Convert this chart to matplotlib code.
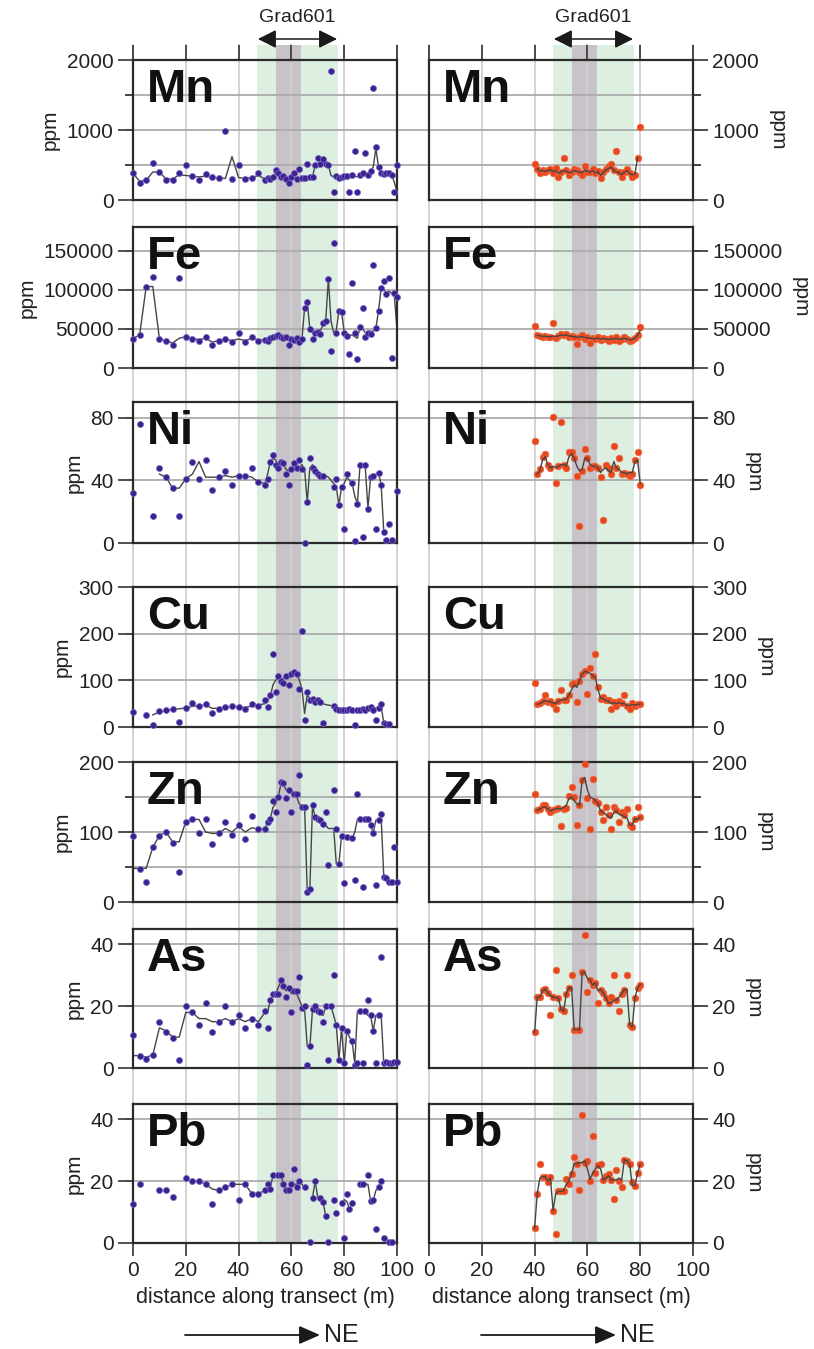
import numpy as np
import matplotlib
matplotlib.use("Agg")
import matplotlib.pyplot as plt
from matplotlib.lines import Line2D
from matplotlib.patches import Rectangle, FancyArrowPatch

plt.rcParams['font.family'] = ['Liberation Sans', 'DejaVu Sans']

N = None  # no sample / no smoothed value

# sample positions along the transect (m)
x_left = [0, 2.5, 5, 7.5, 10, 12.5, 15, 17.5, 20, 22.5, 25, 27.5, 30, 32.5, 35, 37.5, 40, 42.5, 45, 47.5,
          50, 51, 52, 53, 54, 55, 56, 57, 58, 59, 60, 61, 62, 63, 64, 65, 66, 67, 68, 69,
          70, 71, 72, 73, 74, 75, 76, 77, 78, 79, 80, 81, 82, 83, 84, 85, 86, 87, 88, 89,
          90, 91, 92, 93, 94, 95, 96, 97, 98, 99, 100]
x_right = [40, 41, 42, 43, 44, 45, 46, 47, 48, 49, 50, 51, 52, 53, 54, 55, 56, 57, 58, 59,
           60, 61, 62, 63, 64, 65, 66, 67, 68, 69, 70, 71, 72, 73, 74, 75, 76, 77, 78, 79, 80]

elements = ['Mn', 'Fe', 'Ni', 'Cu', 'Zn', 'As', 'Pb']

# ---- left transect: raw points and smoothed line (ppm) ----
mn_pts_L = [380, 240, 285, 530, 400, 285, 285, 380, 500, 340, 285, 370, 330, 310, 985, 295, 500, 300, 320, 380,
            290, 310, 300, 330, 430, 380, 330, 340, 300, 250, 330, 380, 300, 450, 320, 310, 520, 330, 330, 500,
            600, 510, 580, 520, 500, 1845, 115, 340, 320, 330, 350, 340, 120, 360, 700, 120, 360, 380, 665, 360,
            420, 1595, 760, 470, 380, 370, 380, 380, 360, 120, 500]
mn_line_L = [380, 270, 280, 400, 400, 300, 300, 360, 350, 340, 330, 340, 320, 310, 310, 620, 320, 310, 320, 350,
             300, 300, 310, 330, 400, 380, 340, 330, 300, 290, 330, 340, 300, 310, 320, 310, 330, 320, 330, 500,
             520, 510, 540, 520, 500, 350, 330, 340, 320, 330, 350, 340, 330, 360, 340, 330, 360, 380, 350, 360,
             420, 470, 740, 470, 380, 370, 380, 380, 360, 250, 120]

fe_pts_L = [37600, 42000, 104000, 116000, 37600, 34500, 30000, 115000, 40000, 37500, 34500, 40000, 29000, 34500,
            37500, 33000, 45000, 33000, 39000, 34500,
            36000, 35000, 38000, 40000, 41000, 42000, 40000, 38000, 39000, 29000,
            37000, 36000, 38000, 33000, 37000, 77000, 84000, 50000, 37000, 45000,
            46000, 44000, 58000, 60000, 114000, 22000, 160000, 45000, 73000, 71000,
            45000, 41000, 17500, 109000, 45000, 11000, 52000, 77000, 39000, 45000,
            44000, 131000, 51000, 73000, 102000, 111000, 94000, 115000, 13000, 96000, 91000]
fe_line_L = [38000, 42000, 104000, 104000, 37600, 34500, 32000, 38000, 40000, 38000, 36000, 38000, 33000, 35000,
             37000, 35000, 37000, 35000, 38000, 36000,
             36000, 36000, 38000, 39000, 40000, 41000, 40000, 38000, 37000, 35000,
             35000, 37000, 36000, 36000, 37000, 77000, 84000, 50000, 45000, 45000,
             46000, 48000, 55000, 60000, 114000, 60000, 45000, 48000, 73000, 71000,
             46000, 44000, 42000, 42000, 40000, 38000, 52000, 50000, 45000, 45000,
             47000, 47000, 51000, 73000, 102000, 100000, 96000, 98000, 95000, 91000, 50000]

ni_pts_L = [32, 76, N, 17, 48, 42, 35, 17, 41, 52, 41, 53, 34, 42, 46, 37, 43, 43, 48, 39,
            37, 41, 52, 56, 50, 48, 52, 51, 44, 37, 47, 51, 48, 53, 47, 0, 26, 54, 48, 46,
            44, 43, 43, N, N, N, 36, 41, 24, 36, 9, 44, N, 38, 1.5, 25, 50, 4, 50, 22,
            42, 43, 9, 45, 37, 7, 2, 12, 2, N, 33]
ni_line_L = [N, N, N, N, 44, 42, 35, 35, 41, 44, 52, 42, 42, 42, 43, 42, 43, 43, 42, 39,
             38, 44, 52, 54, 53, 50, 50, 50, 47, 46, 46, 50, 49, 48, 50, 47, 26, 48, 50, 46,
             45, 44, 43, 43, 42, 40, 38, 36, 24, 36, 38, 42, 40, 38, 30, 25, 50, 50, 48, 22,
             42, 43, 44, 45, 37, 7, N, N, N, N, N]

cu_pts_L = [32, N, 25, 4, 34, 36, 39, 11, 41, 51, 46, 49, 30, 39, 42, 46, 43, 39, 50, 46,
            57, 43, 68, 156, 75, 110, 99, 95, 110, 89, 113, 117, 113, 82, 206, 15, 75, 57, 61, 54,
            57, 54, 8, N, N, N, 46, 39, 37, 36, 36, 37, 38, 36, 4, 37, 36, 39, 37, 40,
            43, 37, 15, 41, 49, 8, 6, 6, N, N, N]
cu_line_L = [N, N, N, 26, 32, 35, 38, 39, 41, 44, 46, 47, 40, 40, 42, 44, 42, 42, 45, 47,
             50, 55, 65, 90, 100, 105, 100, 105, 110, 105, 110, 113, 115, 100, 82, 29, 70, 60, 58, 56,
             56, 54, 50, 48, 47, 46, 44, 39, 37, 36, 36, 37, 38, 36, 37, 37, 36, 39, 37, 40,
             40, 38, 41, 40, 45, 8, 6, 6, N, N, N]

zn_pts_L = [95, 47, 29, 78, 95, 100, 85, 43, 115, 118, 98, 119, 83, 98, 115, 96, 110, 90, 123, 104,
            105, 114, 119, 145, 129, 150, 171, 170, 148, 160, 129, 155, 155, 181, 136, 136, 15, 19, 138, 121,
            119, 117, 112, 129, 53, N, 160, 105, 55, 95, 27, 93, N, 91, 31, 154, 118, 22, 118, 119,
            110, 98, 24, 117, 126, 36, 34, 29, 28, 79, 28]
zn_line_L = [48, 48, 48, 78, 95, 100, 86, 86, 115, 118, 118, 100, 98, 98, 105, 100, 108, 100, 106, 104,
             105, 114, 119, 135, 140, 150, 168, 168, 160, 158, 155, 155, 150, 140, 136, 136, 15, 20, 138, 121,
             119, 117, 112, 110, 105, 105, 105, 55, 55, 95, 93, 93, 92, 91, 100, 118, 118, 118, 118, 119,
             110, 98, 117, 117, 120, 36, 34, 29, 28, 28, 28]

as_pts_L = [10.8, 3.9, 2.8, 4.2, 14.8, 11.8, 9.7, 2.6, 20, 18, 14, 21, 11.8, 15, 20, 15, 17, 13, 16, 14,
            18.4, 13, 22, 24, 24, 24, 28.5, 26.5, 23, 26, 18, 25, 25, 29.5, 19.5, 20, 1, 7, 19, 20,
            18.4, 18, 15, 20, 2.6, 20, 30, 14, 2.6, 13, 1.5, 12, N, 8.6, 1, 1.5, 18.4, 1.7, 18.4, 22,
            17, 12, 1.5, 17, 36, 1.5, 1.8, 1.5, 1.5, 2, 2]
as_line_L = [4, 4, 3.5, 4.2, 13, 12, 10, 10, 18, 18, 16, 16, 15, 15, 16, 15, 16, 15, 16, 15,
             18, 18, 22, 24, 24, 26, 28, 26, 25, 26, 24, 25, 24, 22, 20, 19, 7, 7, 19, 20,
             18.4, 18, 17, 20, 20, 20, 17, 14, 2.6, 13, 1.5, 12, 10, 8.6, 1.5, 18.4, 18.4, 18.4, 18.4, 17,
             17, 12, 17, 17, 17, 1.5, 1.5, 1.5, 1.8, 2, 2.5]

pb_pts_L = [12.7, 19, N, N, 17, 17, 15, N, 21, 20, 20, 19, 12.7, 17, 18, 19, 13.8, 19, 16, 16,
            17, 19, 17.5, 22, N, 22, 22, 19, 17, 17, 19, 24, 18, 20, N, 18, N, 0.4, 14.7, 20,
            N, 14.7, 13.3, 8.7, 0.4, N, 13.8, 9.8, N, 13, 1.5, 16, 11, 13, N, N, 19, 19, N, 22,
            13.6, 13.8, 4.6, 18, 20, 1.5, N, 0.4, 0.4, N, N]
pb_line_L = [N, N, N, N, N, N, N, N, N, 20, 20, 19, 17.5, 17, 18, 19, 19, 19, 16, 16,
             17, 17.5, 17.5, 22, 22, 22, 22, 19, 17, 17, 19, 19, 19, 20, 19, 18, N, N, 14.7, 20,
             14.7, 14.7, 13.3, 8.7, N, N, N, N, N, 13, 14, 13.5, 11, 13, N, N, 19, 19, 19, 19,
             13.6, 13.8, 17, 18, 20, N, N, N, N, N, N]

# ---- right transect ----
mn_pts_R = [520, 450, 380, 430, 400, 430, 450, 380, 460, 330, 400, 600, 430, 360, 400, 450, 430, 400, 360, 480,
            400, 400, 450, 380, 420, 310, 400, 450, 480, 520, 430, 700, 400, 330, 400, 450, 380, 330, 360, 600, 1040]
mn_line_R = [N, 450, 410, 420, 410, 420, 430, 410, 420, 380, 400, 420, 410, 390, 400, 420, 410, 400, 390, 430,
             410, 400, 420, 390, 400, 350, 390, 430, 450, 470, 420, 400, 390, 360, 400, 420, 380, 360, 370, 600, N]

fe_pts_R = [53000, 42000, 41000, 40000, 41000, 39000, 40000, 57000, 38000, 41000,
            43000, 42000, 43000, 40000, 41000, 39000, 31000, 40000, 42000, 37000,
            39000, 32000, 38000, 37000, 39000, 36000, 38000, 37000, 35000, 38000,
            36000, 39000, 35000, 37000, 40000, 37000, 34000, 36000, 38000, 42000, 52000]
fe_line_R = [N, 42000, 41000, 40500, 40500, 40000, 40000, 41000, 40000, 41000,
             42000, 42000, 42000, 41000, 40500, 40000, 39000, 40000, 40000, 39000,
             38500, 38000, 37500, 37500, 38000, 37000, 37500, 37000, 36500, 37000,
             37000, 38000, 36500, 37000, 38000, 37000, 36000, 36500, 38000, 42000, 48000]

ni_pts_R = [65, 44, 47, 55, 57, 50, 48, 80.5, 38, 49, 77, 50, 48, 58, 58, 54, 42.5, 11, 46, 60,
            54, 48, 49, 49, 48, 42, 14.6, 50, 48, 44, 62, 48, 54, 44, 45, 44, 43, 44, 53, 58, 37]
ni_line_R = [N, 44, 46, 53, 55, 50, 48, 49, 48, 49, 50, 50, 49, 55, 57, 54, 49, 46, 47, 54,
             54, 50, 49, 49, 48, 45, 47, 48, 46, 45, 52, 48, 47, 45, 45, 44, 45, 45, 52, 53, 38]

cu_pts_R = [94, 49, 51, 56, 68, 54, 56, 50, 39, 56, 80, 58, 57, 68, 92, 95, 54, 99, 113, 119,
            70, 127, 110, 156, 85, 60, 64, 57, 58, 39, 54, 46, 56, 51, 69, 46, 39, 51, 46, 50, 49]
cu_line_R = [N, 49, 50, 54, 56, 55, 54, 52, 50, 55, 58, 58, 60, 68, 80, 90, 85, 100, 113, 119,
             118, 115, 110, 106, 80, 62, 60, 57, 55, 50, 52, 50, 52, 50, 50, 46, 46, 48, 47, 49, 49]

zn_pts_R = [155, 131, 133, 138, 138, 133, 129, 131, 133, 135, 108, 133, 135, 152, 164, 150, 110, 138, 174, 197,
            148, 105, 176, 145, 142, 129, 117, 136, 124, 104, 136, 131, 114, 129, 124, 133, 110, 107, 119, 136, 121]
zn_line_R = [N, 131, 133, 135, 136, 133, 130, 132, 133, 134, 133, 135, 138, 148, 150, 145, 140, 138, 174, 178,
             160, 150, 148, 145, 140, 130, 128, 125, 122, 120, 128, 130, 125, 124, 122, 120, 110, 110, 119, 118, 121]

as_pts_R = [11.5, 23, 23, 25.4, 25.6, 24.3, 17, 23, 31.6, 22.8, 19, 18.4, 23.9, 26, 30, 12.4, 12.4, 12.4, 31, 43,
            24.6, 28.5, 26.8, 27.6, 21, 25.4, 24.3, 22.8, 21, 23, 30, 22, 18.4, 24, 25.4, 30, 14, 13.3, 22.8, 25.8, 27]
as_line_R = [11.5, 23, 23, 25, 25.6, 24.3, 23.5, 23, 22.8, 22.8, 19, 18.4, 24, 26, 26, 12.4, 12.4, 12.4, 31, 31,
             29, 28.5, 26.8, 27.6, 25, 25.4, 24.3, 22.8, 21, 21, 22, 22, 23, 24, 25.4, 25.4, 14, 13.3, 22.8, 25.8, 27]

pb_pts_R = [4.8, 16, 25.5, 21.5, 21.5, 19.7, 21.5, 10.5, 2.9, 16.7, 16.7, 16.7, 20.8, 19, 22.4, 27.9, 25.7, 17, 41.3, 26,
            26.6, 20.2, 34.5, 22.6, 25.2, 25.7, 20.4, 21.8, 22.4, 20.4, 14.2, 23.7, 20, 18.2, 27, 26.6, 25.7, 19.7, 18.6, 22.6, 25.5]
pb_line_R = [4.8, 16, 21, 21.5, 21.5, 20, 21, 10.5, 16, 16.7, 16.7, 17, 19, 20, 22.4, 25.7, 25.7, 26, 26, 26.6,
             24, 20.6, 22.6, 24, 25, 24, 20.4, 21, 21.8, 20.4, 20.4, 20.4, 21, 20.4, 27, 26.6, 25.5, 18.6, 18.6, 22.6, 25.5]

pts_L = [mn_pts_L, fe_pts_L, ni_pts_L, cu_pts_L, zn_pts_L, as_pts_L, pb_pts_L]
line_L = [mn_line_L, fe_line_L, ni_line_L, cu_line_L, zn_line_L, as_line_L, pb_line_L]
pts_R = [mn_pts_R, fe_pts_R, ni_pts_R, cu_pts_R, zn_pts_R, as_pts_R, pb_pts_R]
line_R = [mn_line_R, fe_line_R, ni_line_R, cu_line_R, zn_line_R, as_line_R, pb_line_R]

ymax = [2000, 180000, 90, 300, 200, 45, 45]
yticks = [[0, 1000, 2000], [0, 50000, 100000, 150000], [0, 40, 80], [0, 100, 200, 300],
          [0, 100, 200], [0, 20, 40], [0, 20, 40]]
yminor = [[500, 1500], [], [], [], [50, 150], [], []]
hgrid = [[500, 1000, 1500], [50000, 100000, 150000], [40, 80], [100, 200], [50, 100, 150], [20, 40], [20, 40]]

green_zone = (47, 77.5)
grey_zone = (54, 63.5)
grad_arrow = (47.3, 77.3)

# ---- layout in pixels ----
W, H = 814, 1349
fig = plt.figure(figsize=(W / 100, H / 100), dpi=100)


def fx(p):
    return p / W


def fy(p):
    return 1 - p / H


row_px = [(60, 200), (227, 368), (402, 543), (587, 727), (762, 902), (929, 1068), (1104, 1243)]
col_px = [(133, 397), (429, 693)]
top_px, bot_px = 45, 1243


def xpx(c, v):
    c0, c1 = col_px[c]
    return c0 + (c1 - c0) * v / 100


# shaded zones and vertical grid running through the whole column
for c in range(2):
    for (a, b), colr in ((green_zone, '#dcefe1'), (grey_zone, '#c8c3c8')):
        x0, x1 = xpx(c, a), xpx(c, b)
        fig.add_artist(Rectangle((fx(x0), fy(bot_px)), fx(x1) - fx(x0), (bot_px - top_px) / H,
                                 transform=fig.transFigure, facecolor=colr, edgecolor='none', zorder=-5))
    for v in range(0, 101, 20):
        p = xpx(c, v)
        fig.add_artist(Line2D([fx(p), fx(p)], [fy(top_px), fy(bot_px)], transform=fig.transFigure,
                              color='#d0d0d0', lw=1.3, zorder=-4))

# horizontal grid spanning both columns
for (r0, r1), ym, hg in zip(row_px, ymax, hgrid):
    for v in hg:
        p = r1 - (r1 - r0) * v / ym
        fig.add_artist(Line2D([fx(127), fx(700)], [fy(p), fy(p)], transform=fig.transFigure,
                              color='#acacac', lw=1.3, zorder=-3))

for i, el in enumerate(elements):
    r0, r1 = row_px[i]
    for c in range(2):
        c0, c1 = col_px[c]
        ax = fig.add_axes([fx(c0), fy(r1), (c1 - c0) / W, (r1 - r0) / H])
        ax.set_facecolor('none')
        if c == 0:
            xs, pts, ln = x_left, pts_L[i], line_L[i]
            mcol, medge, ms, lz = '#3b2290', '#7c6cc4', 4.4, 2
        else:
            xs, pts, ln = x_right, pts_R[i], line_R[i]
            mcol, medge, ms, lz = '#e8461c', '#ee6a40', 4.8, 4
        ax.plot(xs, np.array(ln, dtype=float), '-', color='#454545', lw=1.0, zorder=lz)
        ax.plot(xs, np.array(pts, dtype=float), 'o', ms=ms, color=mcol, mec=medge, mew=0.5,
                zorder=3, clip_on=False)
        ax.set_xlim(0, 100)
        ax.set_ylim(0, ymax[i])
        for s in ax.spines.values():
            s.set_color('#2b2b2b')
            s.set_linewidth(1.6)
        ax.set_xticks(range(0, 101, 20))
        ax.set_yticks(yticks[i])
        ax.set_yticklabels([str(t) for t in yticks[i]])
        ax.set_yticks(yminor[i], minor=True)
        ax.tick_params(axis='both', which='both', direction='out', color='#333333', width=1.2,
                       labelsize=15, labelcolor='#222222')
        ax.tick_params(axis='y', which='major', length=11, pad=3)
        ax.tick_params(axis='y', which='minor', length=6)
        if c == 1:
            ax.yaxis.tick_right()
            ax.yaxis.set_label_position('right')
            ax.set_ylabel('ppm', fontsize=15, rotation=270, va='bottom', labelpad=6, color='#222222')
        else:
            ax.set_ylabel('ppm', fontsize=15, labelpad=5, color='#222222')
        if i == 0:
            ax.tick_params(axis='x', top=True, bottom=False, labeltop=False, labelbottom=False, length=11)
        elif i == len(elements) - 1:
            ax.tick_params(axis='x', bottom=True, top=False, length=9, pad=4)
            ax.set_xlabel('distance along transect (m)', fontsize=15.5, labelpad=5, color='#222222')
        else:
            ax.tick_params(axis='x', bottom=False, labelbottom=False)
        ax.text(0.053, 0.945, el, transform=ax.transAxes, ha='left', va='top',
                fontsize=34, fontweight='bold', color='#111111', zorder=5)

# annotations above and below
for c in range(2):
    a0, a1 = xpx(c, grad_arrow[0]), xpx(c, grad_arrow[1])
    fig.add_artist(FancyArrowPatch((fx(a0), fy(39)), (fx(a1), fy(39)), transform=fig.transFigure,
                                   arrowstyle='<|-|>,head_length=0.7,head_width=0.35', mutation_scale=16,
                                   color='#1a1a1a', lw=1.1, shrinkA=0, shrinkB=0))
    fig.text(fx((a0 + a1) / 2), fy(18), 'Grad601', ha='center', va='center', fontsize=14, color='#222222')
    c0 = col_px[c][0]
    fig.add_artist(FancyArrowPatch((fx(c0 + 52), fy(1335)), (fx(c0 + 187), fy(1335)), transform=fig.transFigure,
                                   arrowstyle='-|>,head_length=0.8,head_width=0.35', mutation_scale=16,
                                   color='#1a1a1a', lw=1.3, shrinkA=0, shrinkB=0))
    fig.text(fx(c0 + 191), fy(1335), 'NE', ha='left', va='center', fontsize=18, color='#222222')

fig.savefig('out.png', dpi=100)
